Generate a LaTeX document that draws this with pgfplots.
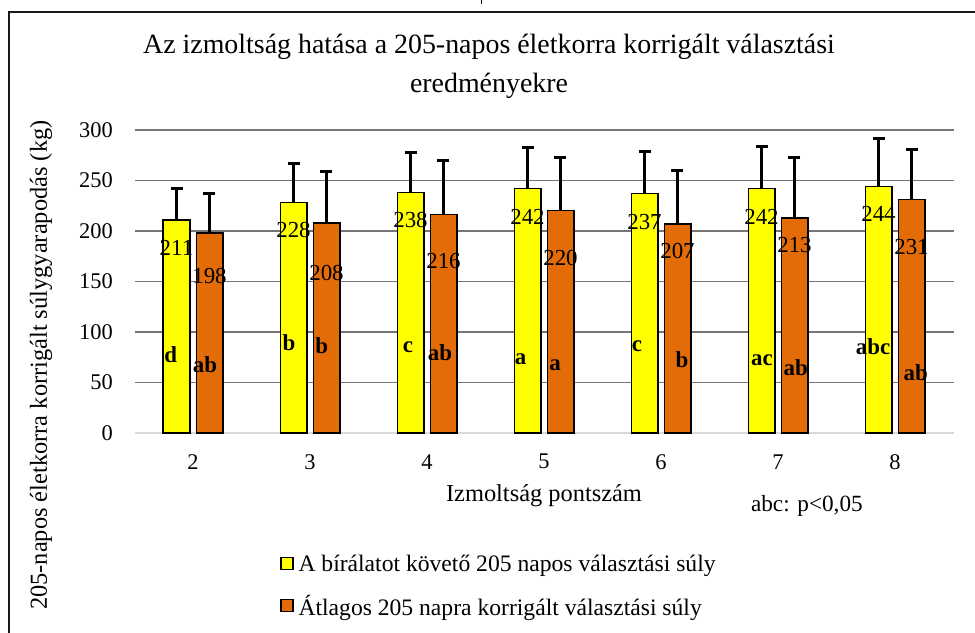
\documentclass[border=0pt]{standalone}
\usepackage{fontspec}
\setmainfont{Liberation Serif}
\usepackage{pgfplots}
\usepackage{pgfplotstable}
\pgfplotsset{compat=1.18}
\definecolor{barY}{HTML}{FFFF00}
\definecolor{barO}{HTML}{E36C09}
\definecolor{gridc}{HTML}{767676}
\definecolor{zeroc}{HTML}{D9D9D9}

\pgfplotstableread{
x y1 e1 y2 e2
2 211 31 198 39
3 228 39 208 51
4 238 40 216 54
5 242 41 220 53
6 237 42 207 53
7 242 42 213 60
8 244 48 231 50
}\datatable

\pgfplotstableread{
x y lab
2 183 211
3 201 228
4 211 238
5 214 242
6 209 237
7 214 242
8 217 244
}\labY

\pgfplotstableread{
x y lab
2 155 198
3 158 208
4 170 216
5 173 220
6 180 207
7 186 213
8 184.5 231
}\labO

\pgfplotstableread{
x y lab
1.809 78 d
2.103 68 ab
2.821 89 b
3.100 86 b
3.838 85 c
4.111 80 ab
4.801 73 a
5.094 67 a
5.795 86 c
6.179 73 b
6.863 72 ac
7.151 65 ab
7.812 85 abc
8.177 60 ab
}\letters

\newcommand{\fs}{\fontsize{22.5}{26}\selectfont}
\newcommand{\fv}{\fontsize{23}{26}\selectfont}
\newcommand{\fl}{\fontsize{24.5}{28}\selectfont}

\begin{document}
\begin{tikzpicture}
\useasboundingbox (0,0) rectangle (975bp,633bp);
\fill[white] (0,0) rectangle (975bp,633bp);
\draw[line width=2bp, color=black!90] (8.5bp,-20bp) |- (995bp,621bp);
\draw[line width=1bp] (481.7bp,633bp) -- (481.7bp,629bp);

\node[anchor=base, font=\fontsize{28}{32}\selectfont] at (489bp,579bp) {Az izmoltság hatása a 205-napos életkorra korrigált választási};
\node[anchor=base, font=\fontsize{28}{32}\selectfont] at (489bp,540bp) {eredményekre};

\begin{axis}[
  at={(134.5bp,200bp)}, anchor=south west,
  scale only axis, width=819bp, height=303bp,
  xmin=1.5, xmax=8.5, ymin=0, ymax=300,
  xtick={2,...,8}, ytick={50,100,...,300},
  extra y ticks={0},
  extra y tick style={grid style={color=zeroc, line width=2bp}},
  major tick length=0pt,
  ymajorgrids,
  grid style={color=gridc, line width=1.5bp},
  axis line style={draw=none},
  /pgf/number format/assume math mode=true,
  tick label style={font=\fs, inner sep=0pt},
  yticklabel style={anchor=east, xshift=-21.5bp},
  xticklabel style={anchor=center, yshift=-28.7bp},
  every axis y label/.style={at={(axis description cs:-0.114,0.224)}, rotate=90, anchor=center, font=\fl},
  every axis x label/.style={at={(axis description cs:0.5,-0.226)}, anchor=base, font=\fl},
  ylabel={205-napos életkorra korrigált súlygyarapodás (kg)},
  xlabel={Izmoltság pontszám},
  bar width=26.7bp,
  clip=false,
  legend style={at={(axis description cs:0.1777,-0.395)}, anchor=north west, draw=none, fill=none, font=\fontsize{23.7}{27}\selectfont, inner sep=0pt, row sep=18bp, nodes={inner sep=2bp}, /tikz/every odd column/.append style={column sep=3bp}},
  legend cell align=left,
  legend image code/.code={\draw[#1] (0bp,-6bp) rectangle (12bp,6bp);},
]
\addlegendimage{fill=barY, draw=black, line width=1.3bp}
\addlegendentry{A bírálatot követő 205 napos választási súly}
\addlegendimage{fill=barO, draw=black, line width=1.3bp}
\addlegendentry{Átlagos 205 napra korrigált választási súly}

\addplot[forget plot, ybar, bar shift=-16.5bp, fill=barY, draw=black, line width=1.3bp]
  table[x=x, y=y1] {\datatable};
\addplot[forget plot, ybar, bar shift=16.5bp, fill=barO, draw=black, line width=1.3bp]
  table[x=x, y=y2] {\datatable};

% error bars: cap mark at mean + SD, bar down to the mean
\addplot[forget plot, only marks, mark=-, mark size=6bp, black,
  mark options={line width=3bp, black},
  error bars/.cd, y dir=minus, y explicit, error mark=none,
  error bar style={line width=3bp, black}]
  table[x expr=\thisrow{x}-0.141, y expr=\thisrow{y1}+\thisrow{e1}, y error=e1] {\datatable};
\addplot[forget plot, only marks, mark=-, mark size=6bp, black,
  mark options={line width=3bp, black},
  error bars/.cd, y dir=minus, y explicit, error mark=none,
  error bar style={line width=3bp, black}]
  table[x expr=\thisrow{x}+0.141, y expr=\thisrow{y2}+\thisrow{e2}, y error=e2] {\datatable};

\addplot[forget plot, draw=none, mark=none, nodes near coords, point meta=explicit symbolic,
  nodes near coords style={anchor=center, font=\fv, inner sep=0pt, xshift=-16.5bp}]
  table[x=x, y=y, meta=lab] {\labY};
\addplot[forget plot, draw=none, mark=none, nodes near coords, point meta=explicit symbolic,
  nodes near coords style={anchor=center, font=\fv, inner sep=0pt, xshift=16.5bp}]
  table[x=x, y=y, meta=lab] {\labO};
\addplot[forget plot, draw=none, mark=none, nodes near coords, point meta=explicit symbolic,
  nodes near coords style={anchor=center, font=\fv\bfseries, inner sep=0pt}]
  table[x=x, y=y, meta=lab] {\letters};

\node[anchor=base, font=\fontsize{23.3}{27}\selectfont] at (axis description cs:0.821,-0.259) {abc: p<0,05};
\end{axis}
\end{tikzpicture}
\end{document}
